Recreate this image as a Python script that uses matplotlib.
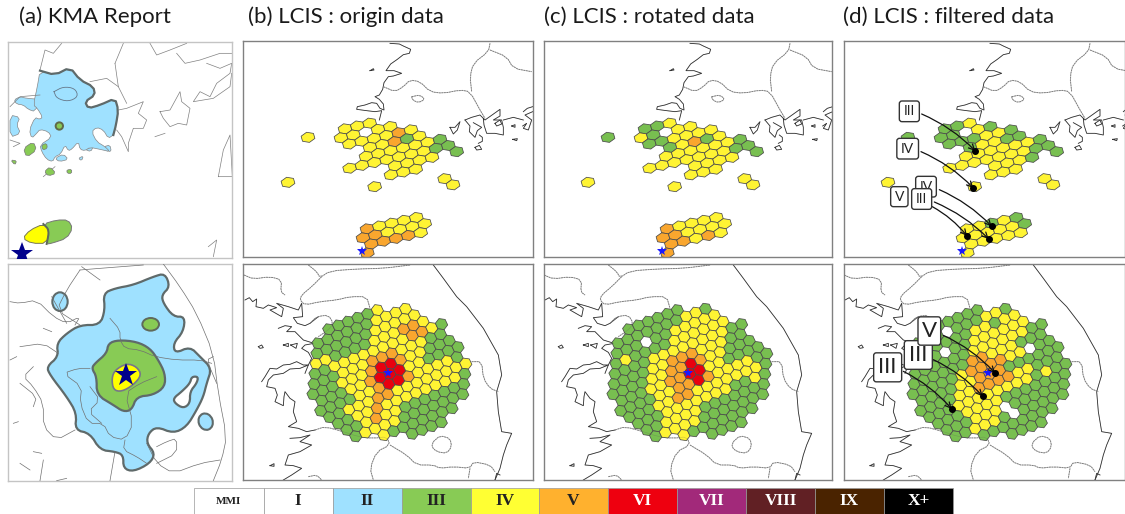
#! /usr/bin/env python3
# MMI maps: KMA report vs LCIS (origin / rotated / filtered).
# All map coordinates are in "crop units" = 3x reference pixels, relative to each panel crop.

import matplotlib
matplotlib.use('Agg')
import matplotlib.pyplot as plt
from matplotlib.collections import PolyCollection
from matplotlib.patches import Ellipse, FancyBboxPatch, Polygon, Rectangle

W, H = 1125, 514

titles = ['(a) KMA Report', '(b) LCIS : origin data', '(c) LCIS : rotated data', '(d) LCIS : filtered data']
title_x = [19, 248, 544, 843]

mmi_labels = ['MMI', 'I', 'II', 'III', 'IV', 'V', 'VI', 'VII', 'VIII', 'IX', 'X+']
mmi_colors = ['#ffffff', '#ffffff', '#9fe1ff', '#88cb55', '#ffff33', '#ffb12e', '#ee000f', '#a2297a', '#612024', '#4a2300', '#000000']
mmi_text = ['#222222', '#222222', '#222222', '#222222', '#222222', '#222222', '#ffffff', '#ffffff', '#ffffff', '#ffffff', '#ffffff']
mmi_edges = [194, 263.6, 332.6, 401.7, 470.7, 539, 608, 677, 746, 815, 884, 953]

hex_colors = {'G': '#78bf50', 'Y': '#fff433', 'O': '#f9a62e', 'R': '#e8000f'}

# hex lattices: rows of (j, first i, levels)
upper_b = [(-4, -12, 'Y'), (-4, -9, 'YYY'), (-3, -9, 'YY.YY'), (-2, -8, 'YYYYOY'), (-1, -6, 'YYOGY'),
           (0, -6, 'YYYYYYG'), (1, -7, 'YYYYYYYGG'), (2, -3, 'YYYY.G'), (3, -3, 'YYY'), (4, -4, 'Y'),
           (5, 2, 'Y'), (6, 3, 'Y'), (1, -12, 'Y'),
           (9, -3, 'OYYYY'), (10, -3, 'OOYYYY'), (11, -2, 'OOOOY'), (12, -2, 'O')]
upper_c = [(-4, -12, 'G'), (-4, -9, 'GGY'), (-3, -9, 'YG.YY'), (-2, -8, 'GGYYYY'), (-1, -6, 'GYOGY'),
           (0, -6, 'YYYYYYG'), (1, -7, 'YYYYYYYGG'), (2, -3, 'YYYY.G'), (3, -3, 'YYY'), (4, -4, 'Y'),
           (5, 2, 'Y'), (6, 3, 'Y'), (1, -12, 'Y'),
           (9, -3, 'OYYYY'), (10, -3, 'OOYYYY'), (11, -2, 'OOYOY'), (12, -2, 'O')]
upper_d = [(-4, -12, 'G'), (-4, -9, 'GGY'), (-3, -9, 'GG.YG'), (-2, -8, 'GGGYYG'), (-1, -6, 'GYYGG'),
           (0, -6, 'YYYYYYG'), (1, -7, 'YYYYYYYGG'), (2, -3, 'YYYG.G'), (3, -3, 'YYY'), (4, -4, 'Y'),
           (5, 2, 'Y'), (6, 3, 'Y'), (1, -12, 'Y'),
           (9, -3, 'YYGYG'), (10, -3, 'YYYYYG'), (11, -2, 'YYYYY'), (12, -2, 'Y')]

lower_b = [(-1, 1, 'GGGGGY'), (0, 0, 'GGGGGGYYYY'), (1, 0, 'GGGGGGYYYYY'), (2, 0, 'YYGGGGYYYOOY'),
           (3, 0, 'GGYYYYYYYYOOYG'), (4, 0, 'GGGYYYOOOYYYGG'), (5, 0, 'GGGYYYORROYYGGG'),
           (6, 1, 'GGGYYORRRYYGGGG'), (7, 1, 'GGGGYYORROYYYYG'), (8, 2, 'GGYYYOOYYYYYYYY'),
           (9, 3, 'GGYYOYYYYYYYYG'), (10, 4, 'GGYOYYGGGGGGG'), (11, 5, 'GYYYYGGGGGGG'),
           (12, 8, 'YGGGGGGG'), (13, 11, 'GGGG')]
lower_c = [(-1, 1, 'GGGGGG'), (0, 0, 'GGGGGGGYYG'), (1, 0, 'GGG.GGYYYYY'), (2, 0, 'GYGGGGYYYYYY'),
           (3, 0, 'GGGGYYYYYYYYGG'), (4, 0, 'GGGGYYOOOYYYGG'), (5, 0, 'GGGGYYOOROYYGGG'),
           (6, 1, 'GGGYYOORRYYGGGG'), (7, 1, 'GGGGYYOOROYYYYGG'), (8, 2, 'GGGYYOOYYYYYYYG'),
           (9, 3, 'GGGYYYYYYYGGYG'), (10, 4, 'GGYYYYGGGGGGG'), (11, 5, 'GYYYYGGGGGGG'),
           (12, 8, 'YGGGGGGG'), (13, 11, 'GGGG')]
lower_d = [(-1, 1, 'GGGGGG'), (0, 0, 'GGG.GGGYYG'), (1, 0, 'GGGGGGYYGYY'), (2, 0, 'GGG.GGYYYYYY'),
           (3, 0, 'GGGGGGYYYYYYGG'), (4, 0, 'GGGGGGOOYYYGGG'), (5, 0, 'GGGGGYOOOOYY.GG'),
           (6, 1, 'GGGGYYOOOGGGGGG'), (7, 1, 'GGGGYYOOOOYYGGG'), (8, 2, 'GGGYYYYYYYYGYGG'),
           (9, 3, 'GGGYYYYGGGGGGG'), (10, 4, 'GGGYYY.GGGGGG'), (11, 5, 'GGYYYG.GGGGG'),
           (12, 8, 'GGGGGGGG'), (13, 11, 'GGGG')]

# lattice geometry (origin, step along row, step between rows)
upper_lat = ((600, 298), (37, -8.5), (-12, 27))
lower_lat = ((234, 235), (29.2, -11.5), (-3, 30.6))

# base map of the south coast, LCIS upper panels
up_coast = [
    [(450, 10), (478, 12), (490, 18), (512, 28), (508, 40), (490, 44), (472, 58), (452, 72), (438, 92), (462, 92), (485, 100), (460, 108), (445, 110), (432, 128), (428, 148), (418, 165), (405, 170), (418, 178), (430, 192), (432, 210), (420, 205), (410, 190), (395, 188), (375, 195), (352, 200), (350, 208), (380, 212), (405, 215), (425, 212), (418, 240)],
    [(630, 262), (645, 262), (660, 245), (652, 270), (640, 282), (630, 262)],
    [(675, 240), (695, 232), (720, 225), (735, 240), (752, 228), (780, 208), (780, 228), (760, 240), (785, 240), (790, 262), (790, 285), (765, 280), (740, 280), (732, 255), (730, 235)],
    [(675, 240), (690, 258), (688, 275), (705, 292), (712, 272), (725, 262), (700, 248)],
    [(718, 285), (727, 292), (727, 304), (715, 310)],
    [(850, 215), (862, 205), (878, 200)], [(878, 215), (855, 225), (875, 240), (865, 270), (850, 265), (860, 250), (848, 258)],
    [(705, 322), (718, 316), (725, 328), (710, 330), (705, 322)],
    [(818, 298), (832, 296), (830, 302), (818, 298)],
    [(390, 92), (400, 86), (402, 90), (390, 92)],
    [(815, 258), (825, 254), (825, 262), (815, 258)],
    [(765, 250), (780, 240), (785, 252), (770, 258), (765, 250)],
    [(790, 240), (820, 232), (850, 240)],
]
up_border = [
    [(430, 140), (465, 155), (490, 140), (510, 120), (540, 125), (570, 155), (610, 160), (660, 150), (690, 155), (720, 210), (735, 235)],
    [(750, 10), (745, 35), (700, 70), (690, 110), (695, 155)],
    [(750, 30), (800, 50), (820, 85), (875, 95)],
    [(515, 170), (540, 165), (555, 178), (535, 188), (518, 180), (515, 170)],
]

# base map of the central region, LCIS lower panels
low_coast = [
    [(580, 0), (610, 40), (650, 95), (680, 125), (730, 190), (775, 270), (785, 330), (770, 380), (775, 440), (785, 500), (815, 505), (800, 540), (790, 570), (780, 610), (765, 645)],
    [(15, 105), (28, 98), (38, 110), (50, 102), (48, 125), (70, 130), (85, 120), (110, 128), (90, 135), (125, 155), (130, 130), (110, 115), (145, 125), (175, 135), (185, 115), (188, 155), (160, 158), (172, 175), (195, 182), (210, 175), (235, 155)],
    [(115, 190), (135, 182), (155, 185), (140, 200), (165, 200), (180, 215), (190, 225), (222, 235), (195, 240), (185, 250), (205, 262), (215, 280), (205, 300), (195, 325)],
    [(65, 350), (75, 335), (90, 310), (110, 312), (130, 300), (150, 298), (170, 290), (190, 300), (205, 300), (180, 310), (150, 312), (130, 325), (100, 330), (85, 345), (80, 365), (105, 370), (112, 390), (105, 410), (130, 422), (132, 395), (135, 380), (150, 400), (165, 410), (160, 440), (170, 470), (145, 485), (175, 490), (200, 500), (225, 495)],
    [(150, 520), (180, 518), (210, 510), (180, 530), (215, 540), (180, 560), (145, 570), (135, 600), (160, 602), (185, 610), (155, 630), (130, 645)],
    [(55, 245), (65, 240), (70, 248), (60, 250), (55, 245)],
    [(130, 240), (145, 235), (145, 245), (130, 240)], [(152, 240), (172, 235), (168, 250), (152, 240)],
    [(90, 602), (102, 596), (102, 604), (90, 602)],
    [(765, 645), (770, 625), (780, 630)],
]
low_border = [
    [(12, 30), (40, 42), (90, 35), (125, 45), (122, 80), (135, 90)],
    [(205, 0), (230, 20), (240, 38), (270, 18), (350, 12), (430, 10), (510, 0)],
    [(245, 35), (215, 65), (185, 90), (180, 105), (195, 120), (240, 110), (290, 105), (330, 95), (380, 95), (390, 130)],
    [(210, 175), (230, 155), (265, 150), (280, 175), (265, 195), (235, 215)],
    [(225, 495), (255, 485), (310, 500), (355, 515), (400, 520), (440, 515), (450, 540), (410, 560), (390, 610), (400, 645)],
    [(450, 540), (500, 570), (530, 600), (580, 600), (600, 610), (640, 605), (690, 610), (700, 590), (750, 600), (765, 620)],
    [(690, 610), (685, 640)],
    [(580, 530), (600, 512), (630, 520), (635, 545), (620, 565), (590, 560), (575, 545), (580, 530)],
    [(205, 635), (230, 630), (245, 645)],
    [(695, 290), (725, 290), (730, 340), (750, 370), (775, 380)],
]

# KMA report, upper panel
kma_up_blue = [(120, 122), (165, 135), (210, 112), (240, 150), (280, 170), (285, 195), (255, 215), (265, 235), (300, 225), (345, 205), (355, 240), (348, 285), (340, 315), (325, 325), (310, 300), (290, 292), (275, 305), (290, 335), (315, 350), (330, 365), (300, 358), (270, 352), (255, 362), (240, 358), (235, 335), (215, 358), (205, 362), (195, 345), (182, 372), (165, 380), (158, 395), (140, 388), (125, 365), (120, 345), (155, 322), (145, 305), (120, 298), (110, 310), (95, 325), (88, 300), (105, 262), (118, 268), (128, 262), (112, 235), (100, 225), (112, 170)]
kma_up_blue_isl = [
    [(42, 210), (60, 200), (80, 205), (120, 208), (105, 245), (85, 238), (70, 225), (50, 222)],
    [(30, 255), (60, 262), (50, 285), (62, 310), (30, 322)],
    [(235, 385), (250, 378), (245, 392)],
    [(255, 358), (280, 350), (272, 365)],
    [(165, 385), (190, 372), (205, 388), (178, 395)],
    [(312, 350), (330, 345), (334, 365), (318, 362)],
]
kma_up_thick = [(120, 122), (165, 135), (210, 112), (240, 150), (280, 170), (285, 195), (255, 215), (265, 235), (300, 225), (345, 205), (355, 240), (348, 285), (340, 315)]
kma_up_lake = [(162, 185), (190, 170), (225, 175), (235, 200), (205, 215), (170, 205), (162, 185)]
kma_up_green = [
    [(70, 355), (100, 335), (110, 360), (80, 382)],
    [(125, 345), (140, 340), (142, 355), (128, 360)],
    [(133, 425), (150, 410), (168, 430), (145, 438)],
    [(200, 420), (215, 418), (215, 430), (202, 430)],
    [(32, 390), (50, 392), (45, 405)],
]
kma_up_jeju_g = [(130, 582), (170, 570), (205, 570), (218, 595), (200, 625), (155, 640), (140, 642), (148, 605)]
kma_up_jeju_y = [(68, 625), (90, 600), (130, 582), (148, 600), (140, 640), (95, 640)]
kma_up_jeju_line = [(130, 582), (148, 600), (140, 642)]
kma_up_lines = [
    [(120, 120), (135, 60), (160, 70), (185, 40)], [(345, 100), (370, 40)],
    [(345, 100), (355, 170), (380, 220)], [(270, 155), (320, 145), (355, 170)],
    [(450, 40), (470, 75), (510, 60), (560, 40)], [(530, 70), (555, 100), (600, 90), (660, 70), (695, 70)],
    [(620, 100), (660, 115), (695, 100), (690, 130), (650, 160), (630, 200), (600, 185), (580, 215), (640, 205), (690, 170), (695, 130)],
    [(355, 240), (380, 235), (430, 215), (415, 250), (440, 270), (430, 295), (400, 295), (385, 340), (385, 365), (365, 320), (350, 300)],
    [(480, 245), (510, 240), (540, 185), (545, 215), (570, 235), (560, 285), (535, 280), (510, 290), (490, 265), (480, 245)],
    [(655, 440), (670, 360), (690, 315), (697, 440), (655, 440)],
    [(625, 650), (650, 630), (640, 680)], [(30, 230), (60, 200), (120, 195)],
    [(30, 330), (60, 340), (40, 350)], [(465, 320), (495, 310)], [(130, 440), (165, 410)],
]

# KMA report, lower panel
kma_low_blue = [(310, 100), (345, 85), (400, 75), (460, 50), (495, 40), (510, 80), (485, 105), (490, 130), (520, 170), (555, 170), (550, 215), (520, 250), (525, 280), (570, 260), (600, 290), (635, 325), (620, 370), (610, 410), (590, 450), (560, 500), (520, 520), (470, 500), (445, 520), (440, 550), (465, 580), (450, 610), (400, 635), (370, 625), (370, 585), (345, 575), (300, 570), (270, 520), (225, 510), (230, 460), (200, 410), (150, 345), (140, 320), (175, 290), (170, 250), (200, 220), (240, 195), (300, 195), (315, 150)]
kma_low_hole = [(520, 415), (545, 395), (570, 370), (575, 350), (595, 350), (590, 370), (570, 395), (570, 430), (550, 445), (525, 430)]
kma_low_green = [(285, 310), (320, 280), (325, 250), (355, 240), (410, 245), (450, 265), (475, 300), (495, 340), (495, 380), (460, 405), (410, 410), (395, 450), (370, 455), (340, 435), (290, 405), (290, 350), (275, 325)]
kma_low_yellow = [(345, 330), (380, 310), (410, 320), (425, 345), (400, 375), (365, 395), (340, 390), (335, 355)]
kma_low_lines = [
    [(490, 12), (540, 80), (590, 160), (640, 280), (655, 400), (680, 530), (665, 600), (640, 662)],
    [(30, 125), (60, 130), (110, 120), (160, 170), (200, 190), (240, 170), (225, 195)],
    [(240, 30), (200, 90), (170, 150), (240, 195)], [(240, 30), (300, 25), (430, 15)], [(245, 20), (300, 60)],
    [(60, 260), (130, 250), (175, 280)], [(100, 320), (70, 350), (100, 380), (130, 430), (130, 500), (170, 540), (225, 510)],
    [(60, 370), (110, 410), (100, 440)], [(30, 300), (50, 290)], [(130, 600), (120, 662)],
    [(100, 575), (125, 580)], [(60, 610), (90, 630)], [(40, 490), (55, 485)],
    [(155, 110), (200, 190)], [(130, 205), (155, 215)],
    [(330, 175), (360, 210), (360, 240), (375, 265), (420, 270), (465, 290), (530, 300), (600, 300), (635, 310)],
    [(270, 325), (235, 325), (190, 340), (245, 380), (240, 430), (265, 490), (310, 490), (330, 530), (375, 540), (400, 490), (375, 400), (420, 370), (470, 350)],
    [(270, 380), (300, 420), (265, 455), (305, 490)], [(375, 540), (370, 570), (410, 590), (440, 610)],
    [(330, 662), (345, 575)], [(440, 550), (470, 610), (520, 640), (600, 610), (660, 600)],
    [(470, 560), (500, 545), (530, 535), (530, 580), (470, 610)], [(170, 662), (200, 655)],
    [(640, 290), (620, 300), (650, 370)],
]


def smooth(points, closed=True, rounds=2):
    """Corner cutting so that hand read outlines do not look like polygons"""
    pts = list(points)
    for _ in range(rounds):
        out = []
        n = len(pts)
        for k in range(n if closed else n - 1):
            p, q = pts[k], pts[(k + 1) % n]
            out.append((0.75 * p[0] + 0.25 * q[0], 0.75 * p[1] + 0.25 * q[1]))
            out.append((0.25 * p[0] + 0.75 * q[0], 0.25 * p[1] + 0.75 * q[1]))
        if not closed:
            out = [pts[0]] + out + [pts[-1]]
        pts = out
    return pts


def panel(fig, box, crop, edge, lw=1.0):
    """Axes on a pixel box; the data units are 3x pixels from the crop corner."""
    left, top, right, bottom = box
    ax = fig.add_axes([left / W, 1 - bottom / H, (right - left) / W, (bottom - top) / H])
    ax.set_xlim((left - crop[0]) * 3, (right - crop[0]) * 3)
    ax.set_ylim((bottom - crop[1]) * 3, (top - crop[1]) * 3)
    ax.set_xticks([])
    ax.set_yticks([])
    for sp in ax.spines.values():
        sp.set_color(edge)
        sp.set_linewidth(lw)
    return ax


def draw_lines(ax, lines, color, lw, style='-', alpha=1.0, z=1, rounds=0):
    for line in lines:
        if rounds:
            line = smooth(line, closed=False, rounds=rounds)
        xs, ys = zip(*line)
        ax.plot(xs, ys, color=color, lw=lw, ls=style, alpha=alpha, zorder=z, solid_joinstyle='round')


def draw_hexes(ax, rows, lattice):
    (ox, oy), a, c = lattice
    b = (a[0] + c[0], a[1] + c[1])
    nbrs = [a, b, c, (-a[0], -a[1]), (-b[0], -b[1]), (-c[0], -c[1])]
    verts = []
    for k in range(6):
        n1, n2 = nbrs[k], nbrs[(k + 1) % 6]
        verts.append(((n1[0] + n2[0]) / 3, (n1[1] + n2[1]) / 3))
    polys, cols = [], []
    for j, start, levels in rows:
        for n, lev in enumerate(levels):
            if lev == '.':
                continue
            i = start + n
            cx = ox + i * a[0] + j * c[0]
            cy = oy + i * a[1] + j * c[1]
            polys.append([(cx + vx, cy + vy) for vx, vy in verts])
            cols.append(hex_colors[lev])
    ax.add_collection(PolyCollection(polys, facecolors=cols, edgecolors='#4a4a4a', linewidths=0.55, zorder=2))


def base_map(ax, coast, border):
    draw_lines(ax, coast, '#2a2a2a', 0.6)
    draw_lines(ax, border, '#888888', 0.7, style=(0, (2, 0.6)), rounds=1)
    # the map shows faintly through the hexagons
    draw_lines(ax, coast, '#555555', 0.4, alpha=0.25, z=3)
    draw_lines(ax, border, '#555555', 0.4, alpha=0.3, z=3, rounds=1)


def callouts(ax, boxes, dots, starts, fs):
    for (sx, sy), (dx, dy) in zip(starts, dots):
        ax.annotate('', xy=(dx, dy), xytext=(sx, sy), zorder=5,
                    arrowprops=dict(arrowstyle='->', color='#111111', lw=0.9,
                                    connectionstyle='arc3,rad=-0.1', shrinkA=0, shrinkB=0))
    ax.plot([d[0] for d in dots], [d[1] for d in dots], 'o', color='black', ms=4, zorder=6)
    for z, (label, cx, cy, w, h) in enumerate(boxes):
        ax.add_patch(FancyBboxPatch((cx - w / 2, cy - h / 2), w, h,
                                    boxstyle='round,pad=0,rounding_size=8',
                                    fc='white', ec='#333333', lw=1.0, zorder=7 + z))
        ax.text(cx, cy, label, ha='center', va='center', fontsize=fs, color='#222222',
                family='Lato', zorder=7 + z)


def main():

    fig = plt.figure(figsize=(W / 100, H / 100), dpi=100)
    fig.patch.set_facecolor('white')

    for t, x in zip(titles, title_x):
        fig.text(x / W, 1 - 17 / H, t, fontsize=16, family='Lato', color='#1a1a1a', va='center')

    # (a) KMA upper
    ax = panel(fig, (8.3, 41.7, 232, 258), (0, 30), '#c4c4c4')
    for isl in kma_up_blue_isl:
        ax.add_patch(Polygon(smooth(isl, rounds=1), fc=mmi_colors[2], ec='#888888', lw=0.5, zorder=1))
    ax.add_patch(Polygon(smooth(kma_up_blue, rounds=1), fc=mmi_colors[2], ec='#888888', lw=0.5, zorder=1))
    draw_lines(ax, [kma_up_lake], '#667788', 0.6, z=2, rounds=2)
    draw_lines(ax, [kma_up_thick], '#5f6a6a', 1.6, z=3, rounds=1)
    draw_lines(ax, kma_up_lines, '#808080', 0.5, z=2)
    for g in kma_up_green:
        ax.add_patch(Polygon(smooth(g, rounds=1), fc=mmi_colors[3], ec='#777777', lw=0.5, zorder=3))
    ax.add_patch(Ellipse((178, 288), 22, 22, fc=mmi_colors[3], ec='#5f6a4a', lw=1.4, zorder=3))
    ax.add_patch(Polygon(smooth(kma_up_jeju_g, rounds=1), fc=mmi_colors[3], ec='#777777', lw=0.7, zorder=3))
    ax.add_patch(Polygon(smooth(kma_up_jeju_y, rounds=1), fc='#ffff00', ec='#777755', lw=0.7, zorder=3))
    draw_lines(ax, [kma_up_jeju_line], '#5f6a5a', 1.4, z=4, rounds=2)
    ax.plot([65], [672], '*', color='#00008b', ms=17, mew=0, zorder=5)

    # (a) KMA lower
    ax = panel(fig, (8, 264, 232, 480.7), (0, 260), '#c4c4c4')
    ax.add_patch(Polygon(smooth(kma_low_blue), fc=mmi_colors[2], ec='#5f6a6a', lw=1.6, zorder=1))
    ax.add_patch(Polygon(smooth(kma_low_hole), fc='white', ec='#5f6a6a', lw=1.6, zorder=1))
    ax.add_patch(Ellipse((180, 125), 46, 56, fc=mmi_colors[2], ec='#5f6a6a', lw=1.5, zorder=1))
    ax.add_patch(Ellipse((617, 485), 42, 50, angle=-20, fc=mmi_colors[2], ec='#5f6a6a', lw=1.5, zorder=1))
    ax.add_patch(Ellipse((452, 193), 50, 38, fc=mmi_colors[3], ec='#5f6a5a', lw=1.4, zorder=2))
    ax.add_patch(Polygon(smooth(kma_low_green), fc=mmi_colors[3], ec='#5f6a6a', lw=1.6, zorder=2))
    ax.add_patch(Polygon(smooth(kma_low_yellow), fc='#ffff00', ec='#777788', lw=1.2, zorder=2))
    draw_lines(ax, kma_low_lines, '#707070', 0.5, z=3, rounds=1)
    ax.plot([378], [345], '*', color='#00008b', ms=17, mew=0, zorder=5)

    # (b) (c) (d) upper row
    uppers = [((243.3, 41, 532.7, 256.7), (240, 40), upper_b),
              ((544, 41, 832, 256.7), (540, 40), upper_c),
              ((843.5, 41, 1124.5, 256.7), (840, 40), upper_d)]
    for box, crop, rows in uppers:
        ax = panel(fig, box, crop, '#808080')
        base_map(ax, up_coast, up_border)
        draw_hexes(ax, rows, upper_lat)
        ax.plot([367], [633], '*', color='#1a1aff', ms=7, mew=0, zorder=4)
    callouts(ax, [('IV', 258, 440, 62, 62), ('III', 208, 214, 60, 62), ('IV', 203, 326, 65, 62),
                  ('V', 178, 470, 52, 60), ('III', 245, 477, 60, 62)],
             [(406, 333), (400, 444), (455, 559), (381, 588), (446, 597)],
             [(245, 222), (243, 335), (298, 449), (277, 500), (283, 486)], 10)

    # (b) (c) (d) lower row
    lowers = [((243.3, 264, 532.7, 480), (240, 265), lower_b),
              ((544, 264, 832, 480), (540, 265), lower_c),
              ((843.5, 264, 1124.5, 480), (840, 265), lower_d)]
    for box, crop, rows in lowers:
        ax = panel(fig, box, crop, '#808080')
        base_map(ax, low_coast, low_border)
        draw_hexes(ax, rows, lower_lat)
        ax.plot([444], [323], '*', color='#1a1aff', ms=7, mew=0, zorder=4)
    callouts(ax, [('III', 143, 307, 84, 87), ('III', 235, 270, 84, 86), ('V', 268, 198, 68, 85)],
             [(465, 324), (428, 394), (335, 432)],
             [(310, 211), (280, 284), (190, 319)], 16)

    # MMI legend strip
    ax = fig.add_axes([0, 0, 1, 1], facecolor='none')
    ax.set_xlim(0, W)
    ax.set_ylim(H, 0)
    ax.axis('off')
    for k, label in enumerate(mmi_labels):
        x0, x1 = mmi_edges[k], mmi_edges[k + 1]
        ax.add_patch(Rectangle((x0, 488), x1 - x0, 26, fc=mmi_colors[k], ec='#999999', lw=0.5))
        ax.text((x0 + x1) / 2, 501, label, ha='center', va='center', family='Liberation Serif',
                weight='bold', fontsize=8 if k == 0 else 12.5, color=mmi_text[k])

    fig.savefig('out.png', dpi=100)


if __name__ == '__main__':
    main()
